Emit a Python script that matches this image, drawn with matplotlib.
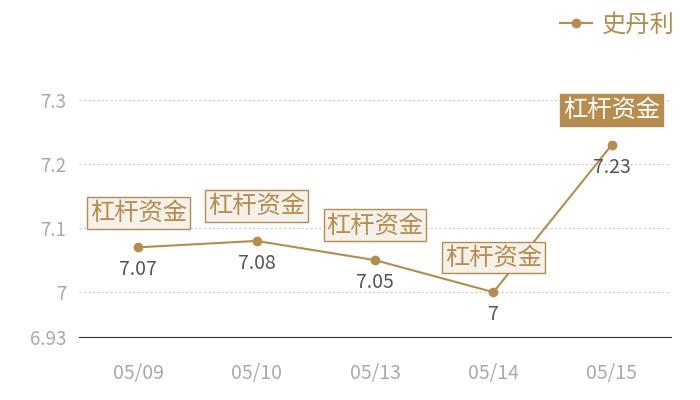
import matplotlib
matplotlib.use("Agg")
import matplotlib.pyplot as plt

plt.rcParams['font.family'] = ['Noto Sans CJK SC', 'DejaVu Sans']

dates = ["05/09", "05/10", "05/13", "05/14", "05/15"]
values = [7.07, 7.08, 7.05, 7.00, 7.23]
series_name = "史丹利"
event_label = "杠杆资金"
yticks = [6.93, 7.0, 7.1, 7.2, 7.3]
ytick_labels = ["6.93", "7", "7.1", "7.2", "7.3"]
value_labels = ["7.07", "7.08", "7.05", "7", "7.23"]

gold = "#b68d4c"

fig = plt.figure(figsize=(7, 4), dpi=100)
ax = fig.add_axes([79/700, 63/400, 592/700, 237/400])

x = list(range(len(dates)))
ax.plot(x, values, color=gold, lw=1.5, marker="o", ms=6, label=series_name, zorder=3)

ax.set_xlim(-0.5, len(dates) - 0.5)
ax.set_ylim(6.93, 7.3)
ax.set_xticks(x)
ax.set_xticklabels(dates)
ax.set_yticks(yticks)
ax.set_yticklabels(ytick_labels)
ax.tick_params(axis="both", length=0, colors="#aaaaaa")
ax.tick_params(axis="x", pad=19, labelsize=14)
ax.tick_params(axis="y", pad=9, labelsize=13.5)
for s in ["top", "right", "left"]:
    ax.spines[s].set_visible(False)
ax.spines["bottom"].set_color("#333333")
ax.grid(axis="y", color="#cccccc", ls=(0, (2, 2)), lw=0.8)

for i, (v, lab) in enumerate(zip(values, value_labels)):
    ax.annotate(lab, (i, v), xytext=(0, -16), textcoords="offset points",
                ha="center", va="center", fontsize=14, color="#555555", zorder=4)
    last = i == len(values) - 1
    ax.annotate(event_label, (i, v), xytext=(0, 25), textcoords="offset points",
                ha="center", va="center", fontsize=17.5,
                color="white" if last else gold, annotation_clip=False, zorder=5,
                bbox=dict(boxstyle="square,pad=0.12",
                          fc=gold if last else "#f4f0ea",
                          ec=gold, lw=1))

ax.legend(loc="upper right", bbox_to_anchor=(684/700, 1 - 2/400), bbox_transform=fig.transFigure,
          frameon=False, fontsize=17.5, labelcolor=gold, handlelength=1.3, handletextpad=0.4,
          borderaxespad=0)

fig.savefig("out.png", dpi=100)
